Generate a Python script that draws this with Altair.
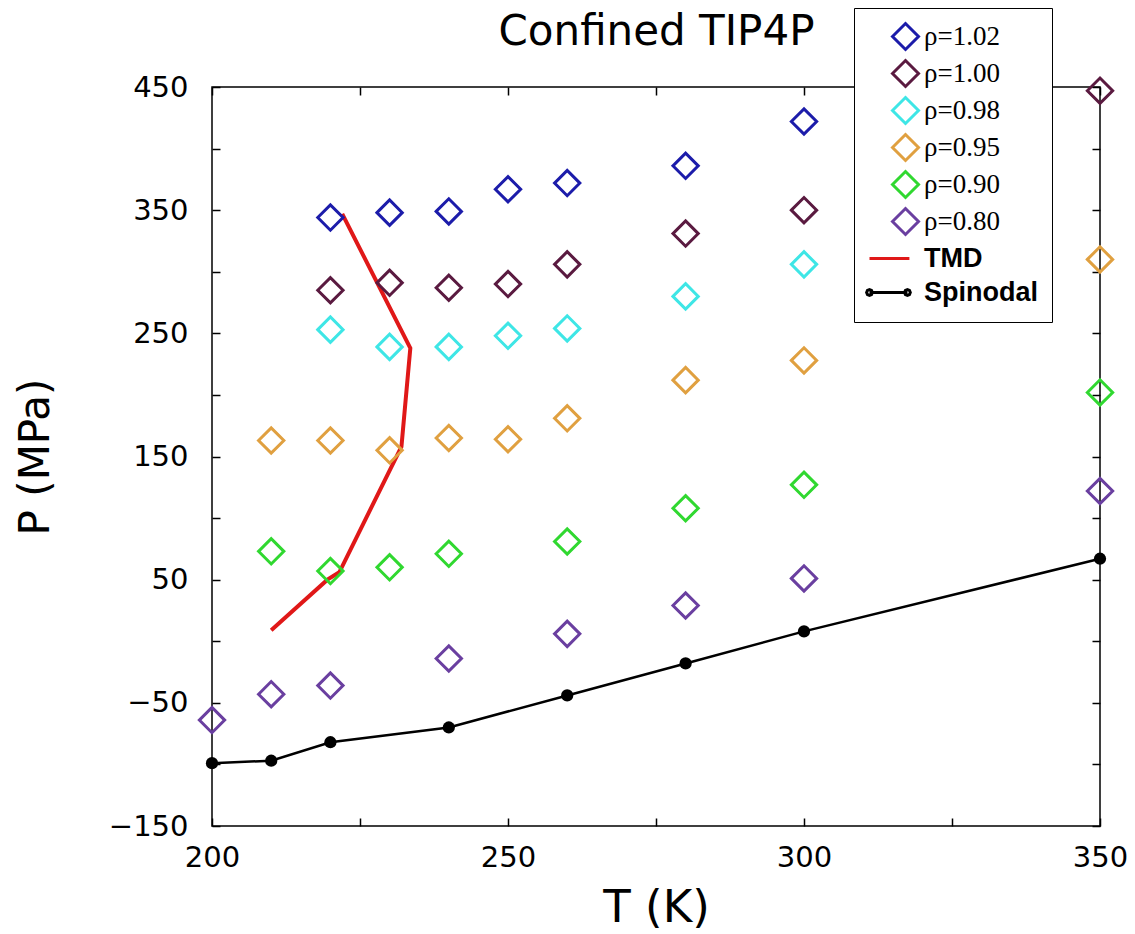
import altair as alt
import pandas as pd

# ---------------- data ----------------
series_names = ["ρ=1.02", "ρ=1.00", "ρ=0.98", "ρ=0.95", "ρ=0.90", "ρ=0.80", "TMD", "Spinodal"]
series_colors = ["#1c1caa", "#5a1a40", "#3ee6e6", "#e0a040", "#30d830", "#6a3fa0", "#e01818", "#000000"]

rho102_T = [220, 230, 240, 250, 260, 280, 300]
rho102_P = [344, 348, 349, 367, 372, 386, 422]
rho100_T = [220, 230, 240, 250, 260, 280, 300, 350]
rho100_P = [285, 291, 287, 290, 306, 331, 350, 447]
rho098_T = [220, 230, 240, 250, 260, 280, 300]
rho098_P = [253, 239, 239, 248, 254, 280, 306]
rho095_T = [210, 220, 230, 240, 250, 260, 280, 300, 350]
rho095_P = [163, 163, 155, 165, 164, 181, 212, 228, 310]
rho090_T = [210, 220, 230, 240, 260, 280, 300, 350]
rho090_P = [73, 57, 60, 71, 81, 108, 127, 202]
rho080_T = [200, 210, 220, 240, 260, 280, 300, 350]
rho080_P = [-64, -43, -36, -14, 6, 29, 51, 122]

spin_T = [200, 210, 220, 240, 260, 280, 300, 350]
spin_P = [-99, -97, -82, -70, -44, -18, 8, 67]

tmd_T = [210, 219.5, 221.5, 232, 233.5, 222]
tmd_P = [9, 50, 56, 158, 238, 347]

x_ticks = [200, 225, 250, 275, 300, 325, 350]
y_ticks = [-150, -100, -50, 0, 50, 100, 150, 200, 250, 300, 350, 400, 450]


# legend symbol shapes (custom paths in symbol units)
def octagon(cx, r):
    k = r * 0.7071
    pts = [(cx + r, 0), (cx + k, k), (cx, r), (cx - k, k), (cx - r, 0), (cx - k, -k), (cx, -r), (cx + k, -k)]
    return "M" + "L".join(f"{x:.3f},{y:.3f}" for x, y in pts) + "Z"


def vpad(h):
    # zero-length sub-paths: invisible, but give the symbol a height
    return f"M0,-{h}L0,-{h}M0,{h}L0,{h}"


tmd_path = "M-2.77,0L0.3,0" + vpad(1.0)
spin_path = "M-2.77,0L0.15,0" + octagon(-2.77, 0.22) + octagon(0.15, 0.22) + vpad(0.7)
series_shapes = ["diamond"] * 6 + [tmd_path, spin_path]

# ---------------- tables ----------------
rows = []
for name, T, P in [
    ("ρ=1.02", rho102_T, rho102_P),
    ("ρ=1.00", rho100_T, rho100_P),
    ("ρ=0.98", rho098_T, rho098_P),
    ("ρ=0.95", rho095_T, rho095_P),
    ("ρ=0.90", rho090_T, rho090_P),
    ("ρ=0.80", rho080_T, rho080_P),
]:
    for t, p in zip(T, P):
        rows.append({"series": name, "T": t, "P": p})
pts = pd.DataFrame(rows)
tmd = pd.DataFrame({"T": tmd_T, "P": tmd_P, "i": list(range(len(tmd_T)))})
spin = pd.DataFrame({"T": spin_T, "P": spin_P})

x_scale = alt.Scale(domain=[200, 350], nice=False, zero=False)
y_scale = alt.Scale(domain=[-150, 450], nice=False, zero=False)

axis_common = dict(
    domain=False, grid=False, ticks=True, tickSize=8, tickWidth=1.5,
    tickColor="black", offset=-8, labelFont="DejaVu Sans", labelFontSize=29,
    labelColor="black", titleFont="DejaVu Sans", titleFontSize=42,
    titleFontWeight="normal", titleColor="black", labelFlush=False,
    labelOverlap=False, labelBound=False,
)

x_axis = alt.Axis(values=x_ticks, title="T (K)",
                  labelExpr="datum.value % 50 == 0 ? datum.label : ''",
                  labelPadding=17, titlePadding=13,
                  **{**axis_common, "titleFontSize": 45})
y_axis = alt.Axis(values=y_ticks, title="P (MPa)",
                  labelExpr="(datum.value + 150) % 100 == 0 ? datum.label : ''",
                  labelPadding=24, titlePadding=51, **axis_common)
# top axis carries the chart title text
x_axis_top = alt.Axis(values=x_ticks, title="Confined TIP4P", orient="top", labels=False,
                      titlePadding=33, **{**axis_common, "titleFontSize": 42})
y_axis_right = alt.Axis(values=y_ticks, title=None, orient="right", labels=False, **axis_common)

legend = alt.Legend(
    title=None, orient="none", legendX=642, legendY=-79,
    fillColor="white", strokeColor="black", padding=14,
    symbolSize=676, symbolStrokeWidth=3, symbolOffset=23,
    labelFontSize=27, labelColor="black", labelOffset=4, rowPadding=-2,
    labelFont=alt.ExprRef(expr="indexof(['TMD','Spinodal'], datum.value) >= 0 ? 'Liberation Sans' : 'Liberation Serif'"),
    labelFontWeight=alt.ExprRef(expr="indexof(['TMD','Spinodal'], datum.value) >= 0 ? 'bold' : 'normal'"),
)

color_enc = alt.Color("series:N", scale=alt.Scale(domain=series_names, range=series_colors), legend=legend)
shape_enc = alt.Shape("series:N", scale=alt.Scale(domain=series_names, range=series_shapes), legend=legend)

points = alt.Chart(pts).mark_point(filled=False, strokeWidth=3, size=640, opacity=1).encode(
    x=alt.X("T:Q", scale=x_scale, axis=x_axis),
    y=alt.Y("P:Q", scale=y_scale, axis=y_axis),
    color=color_enc,
    shape=shape_enc,
)

tmd_line = alt.Chart(tmd).mark_line(color="#e01818", strokeWidth=4).encode(
    x=alt.X("T:Q", scale=x_scale, axis=None),
    y=alt.Y("P:Q", scale=y_scale, axis=None),
    order="i:Q",
)

spin_line = alt.Chart(spin).mark_line(color="black", strokeWidth=2.5).encode(
    x=alt.X("T:Q", scale=x_scale, axis=x_axis_top),
    y=alt.Y("P:Q", scale=y_scale, axis=y_axis_right),
)
spin_dots = alt.Chart(spin).mark_circle(color="black", size=150, opacity=1).encode(
    x=alt.X("T:Q", scale=x_scale, axis=None),
    y=alt.Y("P:Q", scale=y_scale, axis=None),
)

chart = alt.layer(spin_line, tmd_line, spin_dots, points).resolve_axis(
    x="independent", y="independent"
).properties(
    width=888, height=739,
    background="white",
    autosize=alt.AutoSizeParams(type="none"),
    padding={"left": 204, "top": 79, "right": 27, "bottom": 107},
).configure_view(stroke="black", strokeWidth=1.5)

chart.save("out.html", embed_options={"renderer": "svg", "actions": False})
